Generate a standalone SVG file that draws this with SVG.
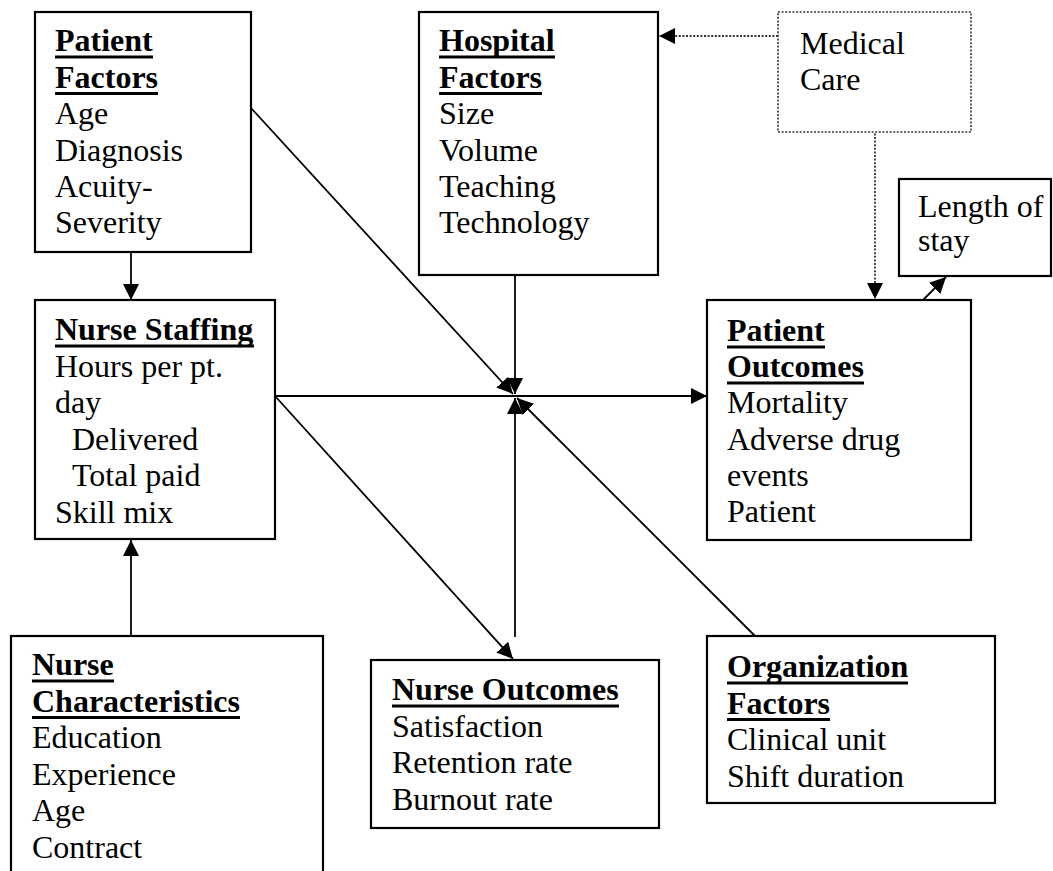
<svg xmlns="http://www.w3.org/2000/svg" width="1053" height="871" viewBox="0 0 1053 871">
<style>
  .box { fill: #fff; stroke: #000; stroke-width: 2.2; }
  .dbox { fill: #fff; stroke: #333; stroke-width: 1.6; stroke-dasharray: 2 1.6; }
  .t { font-family: "Liberation Serif", "Times New Roman", serif; font-size: 32px; fill: #000; }
  .b { font-weight: bold; }
  .ul { stroke: #000; stroke-width: 3; }
  .c { stroke: #000; stroke-width: 1.8; fill: none; marker-end: url(#ah); }
  .d { stroke: #333; stroke-width: 1.8; stroke-dasharray: 2 1.6; fill: none; marker-end: url(#ah); }
</style>
<defs>
  <marker id="ah" markerUnits="userSpaceOnUse" markerWidth="17" markerHeight="17" refX="16" refY="8" orient="auto">
    <path d="M0,0 L16,8 L0,16 z" fill="#000"/>
  </marker>
</defs>
<rect width="1053" height="871" fill="#fff"/>

<g id="connectors">
  <line class="c" x1="131" y1="252" x2="131" y2="300"/>
  <line class="c" x1="131" y1="636" x2="131" y2="540"/>
  <line class="c" x1="251" y1="108" x2="513" y2="394"/>
  <line class="c" x1="515" y1="275" x2="515" y2="394"/>
  <line class="c" x1="275" y1="396" x2="707" y2="396"/>
  <line class="c" x1="275" y1="396" x2="513" y2="659"/>
  <line class="c" x1="515" y1="637" x2="515" y2="398"/>
  <line class="c" x1="755" y1="636" x2="517" y2="398"/>
  <line class="d" x1="778" y1="36" x2="659" y2="36"/>
  <line class="d" x1="875" y1="83" x2="875" y2="299"/>
  <line class="c" x1="923" y1="300" x2="946" y2="277"/>
</g>

<g id="patient-factors">
  <rect class="box" x="35" y="12" width="216" height="240"/>
  <text class="t b" x="55" y="51">Patient</text>
  <line class="ul" x1="55" y1="57" x2="153" y2="57"/>
  <text class="t b" x="55" y="87.5">Factors</text>
  <line class="ul" x1="55" y1="93.5" x2="158" y2="93.5"/>
  <text class="t" x="55" y="124">Age</text>
  <text class="t" x="55" y="160.5">Diagnosis</text>
  <text class="t" x="55" y="197">Acuity-</text>
  <text class="t" x="55" y="233">Severity</text>
</g>

<g id="hospital-factors">
  <rect class="box" x="419" y="12" width="239" height="263"/>
  <text class="t b" x="439" y="51">Hospital</text>
  <line class="ul" x1="439" y1="57" x2="555" y2="57"/>
  <text class="t b" x="439" y="87.5">Factors</text>
  <line class="ul" x1="439" y1="93.5" x2="542" y2="93.5"/>
  <text class="t" x="439" y="124">Size</text>
  <text class="t" x="439" y="160.5">Volume</text>
  <text class="t" x="439" y="197">Teaching</text>
  <text class="t" x="439" y="233">Technology</text>
</g>

<g id="medical-care">
  <rect class="dbox" x="778" y="12" width="193" height="120"/>
  <text class="t" x="800" y="54">Medical</text>
  <text class="t" x="800" y="90">Care</text>
</g>

<g id="length-of-stay">
  <rect class="box" x="899" y="179" width="152" height="97"/>
  <text class="t" x="918" y="217">Length of</text>
  <text class="t" x="918" y="251">stay</text>
</g>

<g id="nurse-staffing">
  <rect class="box" x="35" y="300" width="240" height="239"/>
  <text class="t b" x="55" y="340">Nurse Staffing</text>
  <line class="ul" x1="55" y1="346" x2="254" y2="346"/>
  <text class="t" x="55" y="376.5">Hours per pt.</text>
  <text class="t" x="55" y="413">day</text>
  <text class="t" x="72" y="449.5">Delivered</text>
  <text class="t" x="72" y="486">Total paid</text>
  <text class="t" x="55" y="522.5">Skill mix</text>
</g>

<g id="patient-outcomes">
  <rect class="box" x="707" y="300" width="264" height="240"/>
  <text class="t b" x="727" y="341">Patient</text>
  <line class="ul" x1="727" y1="347" x2="825" y2="347"/>
  <text class="t b" x="727" y="377">Outcomes</text>
  <line class="ul" x1="727" y1="383" x2="864" y2="383"/>
  <text class="t" x="727" y="413">Mortality</text>
  <text class="t" x="727" y="450">Adverse drug</text>
  <text class="t" x="727" y="486">events</text>
  <text class="t" x="727" y="522">Patient</text>
</g>

<g id="nurse-characteristics">
  <rect class="box" x="11" y="636" width="312" height="260"/>
  <text class="t b" x="32" y="675">Nurse</text>
  <line class="ul" x1="32" y1="681" x2="114" y2="681"/>
  <text class="t b" x="32" y="711.5">Characteristics</text>
  <line class="ul" x1="32" y1="717.5" x2="240" y2="717.5"/>
  <text class="t" x="32" y="748">Education</text>
  <text class="t" x="32" y="784.5">Experience</text>
  <text class="t" x="32" y="821">Age</text>
  <text class="t" x="32" y="857.5">Contract</text>
</g>

<g id="nurse-outcomes">
  <rect class="box" x="371" y="660" width="288" height="168"/>
  <text class="t b" x="392" y="700">Nurse Outcomes</text>
  <line class="ul" x1="392" y1="706" x2="619" y2="706"/>
  <text class="t" x="392" y="736.5">Satisfaction</text>
  <text class="t" x="392" y="773">Retention rate</text>
  <text class="t" x="392" y="809.5">Burnout rate</text>
</g>

<g id="organization-factors">
  <rect class="box" x="707" y="636" width="288" height="167"/>
  <text class="t b" x="727" y="677">Organization</text>
  <line class="ul" x1="727" y1="683" x2="908" y2="683"/>
  <text class="t b" x="727" y="713.5">Factors</text>
  <line class="ul" x1="727" y1="719.5" x2="830" y2="719.5"/>
  <text class="t" x="727" y="750">Clinical unit</text>
  <text class="t" x="727" y="786.5">Shift duration</text>
</g>
</svg>
